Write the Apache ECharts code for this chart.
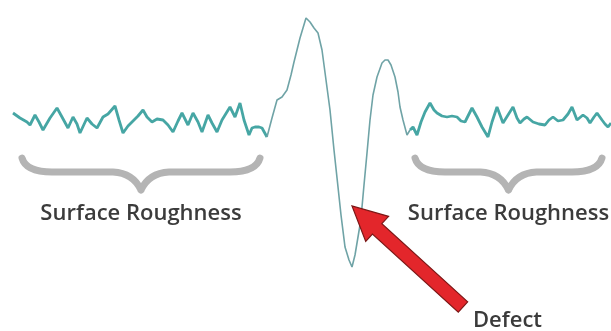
<!DOCTYPE html>
<html>
<head>
<meta charset="utf-8">
<script src="https://cdn.jsdelivr.net/npm/echarts@6/dist/echarts.min.js"></script>
<style>
    html, body { margin: 0; padding: 0; background: #fff; }
    #main { width: 611px; height: 331px; }
</style>
</head>
<body>
<div id="main"></div>
<script>
// 表面轮廓数据：左侧粗糙度、缺陷、右侧粗糙度
var leftX = [13, 20, 27, 30, 35, 39, 43, 50, 57, 62, 68, 73, 77, 80, 87, 92, 97, 103, 108, 115, 119, 123, 128, 132, 138, 143, 147, 152, 157, 163, 168, 173, 178, 182, 188, 193, 198, 202, 208, 212, 217, 222, 230, 235, 240, 244, 249, 252, 255, 259, 262, 267];
var leftY = [7, 2, -2, -5, 5, -2, -10, 2, 12, 3, -8, 3, -4, -13, 2, -4, -8, 3, 6, 14, 0, -13, -6, -2, 4, 10, 3, -2, 1, 0, -5, -12, -1, 7, -5, 7, -2, -12, 5, -3, -12, 0, 13, 3, 17, 0, -15, -8, -7, -7, -8, -17];

var defectX = [267, 272, 277, 282, 287, 291, 294, 297, 300, 303, 306, 310, 314, 318, 322, 326, 330, 334, 338, 341, 345, 349, 352, 355, 357, 360, 362, 364, 367, 370, 373, 377, 382, 385, 388, 391, 395, 398, 400, 403, 407, 410];
var defectY = [-17, 2, 20, 23, 30, 45, 58, 70, 82, 92, 102, 98, 92, 87, 70, 40, 10, -30, -67, -95, -127, -140, -147, -135, -123, -105, -87, -65, -33, 0, 25, 43, 57, 60, 60, 55, 43, 28, 13, 0, -15, -10];

var rightX = [410, 413, 417, 421, 425, 430, 434, 437, 442, 447, 452, 457, 461, 465, 469, 472, 477, 482, 488, 492, 497, 503, 508, 513, 517, 520, 524, 527, 533, 539, 545, 549, 553, 558, 563, 568, 572, 577, 583, 587, 590, 594, 597, 602, 605, 608, 611];
var rightY = [-10, -7, -15, -2, 8, 17, 10, 7, 4, 3, 4, 3, -1, -2, 6, 12, 3, -7, -17, -2, 13, -3, 5, 13, 2, -3, 1, 3, -2, -4, -5, 0, 3, -1, 0, 6, 13, 0, 5, 2, -3, 3, 7, 0, -4, -7, -3];

var braceSpans = [[22, 260], [415, 602]];
var braceLabels = ['Surface Roughness', 'Surface Roughness'];

var arrowFrom = [463, -187];
var arrowTo = [352, -86];
var defectLabel = 'Defect';

(function() {

    var myChart = echarts.init(document.getElementById('main'));

    function zip(xs, ys) {
        var out = [];
        for (var i = 0; i < xs.length; i++) {
            out.push([xs[i], ys[i]]);
        }
        return out;
    }

    var textFont = {
        fontFamily: '"Open Sans", "Noto Sans", sans-serif',
        fontWeight: 600,
        fontSize: 22,
        fill: '#3b3b3b'
    };

    // 大括号
    function renderBrace(params, api) {
        var x0 = api.value(0), x1 = api.value(1);
        var mid = (x0 + x1) / 2;
        var a = api.coord([x0, -38]);
        var b = api.coord([x1, -38]);
        var t = api.coord([mid, -70]);
        var lp = api.coord([mid, -94]);
        var by = a[1] + 14;
        var d = 'M' + a[0] + ',' + a[1] +
            ' Q' + (a[0] + 4) + ',' + by + ' ' + (a[0] + 30) + ',' + by +
            ' L' + (t[0] - 28) + ',' + by +
            ' Q' + (t[0] - 8) + ',' + (by + 1) + ' ' + t[0] + ',' + t[1] +
            ' M' + b[0] + ',' + b[1] +
            ' Q' + (b[0] - 4) + ',' + by + ' ' + (b[0] - 30) + ',' + by +
            ' L' + (t[0] + 28) + ',' + by +
            ' Q' + (t[0] + 8) + ',' + (by + 1) + ' ' + t[0] + ',' + t[1];
        return {
            type: 'group',
            children: [{
                type: 'path',
                shape: { pathData: d },
                style: { fill: 'none', stroke: '#b4b4b4', lineWidth: 7, lineCap: 'round', lineJoin: 'round' }
            }, {
                type: 'text',
                x: lp[0],
                y: lp[1],
                style: Object.assign({
                    text: braceLabels[api.value(2)],
                    align: 'center',
                    verticalAlign: 'middle'
                }, textFont)
            }]
        };
    }

    // 红色箭头
    function renderArrow(params, api) {
        var a = api.coord([api.value(0), api.value(1)]);
        var b = api.coord([api.value(2), api.value(3)]);
        var dx = b[0] - a[0], dy = b[1] - a[1];
        var len = Math.sqrt(dx * dx + dy * dy);
        var ux = dx / len, uy = dy / len;
        var nx = -uy, ny = ux;
        var headLen = 34, sh = 7, hh = 17;
        var bx = b[0] - ux * headLen, byy = b[1] - uy * headLen;
        var pts = [
            [a[0] + nx * sh, a[1] + ny * sh],
            [bx + nx * sh, byy + ny * sh],
            [bx + nx * hh, byy + ny * hh],
            [b[0], b[1]],
            [bx - nx * hh, byy - ny * hh],
            [bx - nx * sh, byy - ny * sh],
            [a[0] - nx * sh, a[1] - ny * sh]
        ];
        var lp = api.coord([473, -201]);
        return {
            type: 'group',
            children: [{
                type: 'polygon',
                shape: { points: pts },
                style: { fill: '#e3262b', stroke: '#7c1716', lineWidth: 1.2 }
            }, {
                type: 'text',
                x: lp[0],
                y: lp[1],
                style: Object.assign({
                    text: defectLabel,
                    align: 'left',
                    verticalAlign: 'middle'
                }, textFont)
            }]
        };
    }

    var option = {
        animation: false,
        backgroundColor: '#fff',
        grid: { left: 0, right: 0, top: 0, bottom: 0 },
        xAxis: { type: 'value', min: 0, max: 611, show: false },
        yAxis: { type: 'value', min: -211, max: 120, show: false },
        series: [{
                type: 'line',
                data: zip(leftX, leftY),
                showSymbol: false,
                silent: true,
                lineStyle: { color: '#46a6a4', width: 2.8 },
                z: 3
            },
            {
                type: 'line',
                data: zip(defectX, defectY),
                showSymbol: false,
                silent: true,
                lineStyle: { color: '#6fa3a6', width: 1.6 },
                z: 3
            },
            {
                type: 'line',
                data: zip(rightX, rightY),
                showSymbol: false,
                silent: true,
                lineStyle: { color: '#46a6a4', width: 2.8 },
                z: 3
            },
            {
                type: 'custom',
                data: braceSpans.map(function(s, i) { return [s[0], s[1], i]; }),
                renderItem: renderBrace,
                silent: true,
                z: 2
            },
            {
                type: 'custom',
                data: [[arrowFrom[0], arrowFrom[1], arrowTo[0], arrowTo[1]]],
                renderItem: renderArrow,
                silent: true,
                z: 4
            }
        ]
    };

    myChart.setOption(option);

})();
</script>
</body>
</html>
